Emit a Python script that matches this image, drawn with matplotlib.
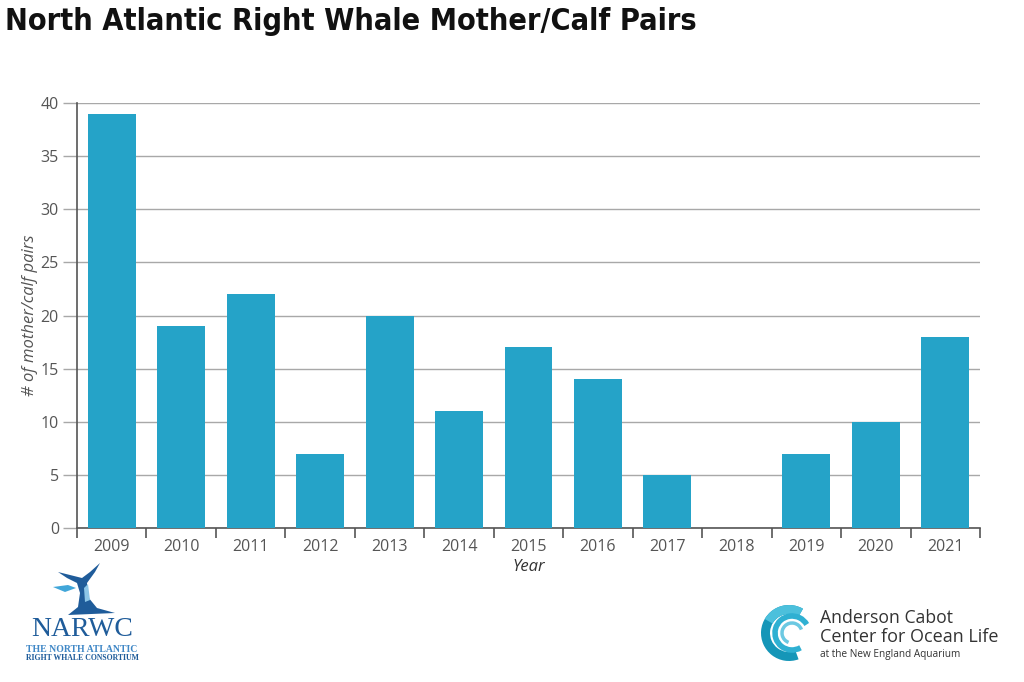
import matplotlib
matplotlib.use("Agg")
import matplotlib.pyplot as plt
from matplotlib import font_manager
from matplotlib.patches import Polygon, Arc, Wedge
import numpy as np

years = ["2009", "2010", "2011", "2012", "2013", "2014", "2015",
         "2016", "2017", "2018", "2019", "2020", "2021"]
pairs = [39, 19, 22, 7, 20, 11, 17, 14, 5, 0, 7, 10, 18]
y_ticks = [0, 5, 10, 15, 20, 25, 30, 35, 40]

bar_color = "#25a3c8"
grid_color = "#a8a8a8"
text_color = "#555555"

plt.rcParams["font.family"] = ["Open Sans", "DejaVu Sans"]

# pick a narrow bold face for the title if one is around
names = {f.name for f in font_manager.fontManager.ttflist}
narrow = [f for f in font_manager.fontManager.ttflist
          if f.stretch in ("condensed", "semi-condensed", "extra-condensed")
          or "Narrow" in f.name or "Condensed" in f.name]
title_kw = dict(family=["Lato", "DejaVu Sans"], fontsize=21)
if "Liberation Sans Narrow" in names:
    title_kw = dict(family=["Liberation Sans Narrow", "DejaVu Sans"], fontsize=23)
elif narrow:
    title_kw = dict(family=[narrow[0].name, "DejaVu Sans"], fontsize=22,
                    fontstretch="condensed")

fig = plt.figure(figsize=(10.24, 6.82), dpi=100)
ax = fig.add_axes([77 / 1024, 1 - 528 / 682, (980 - 77) / 1024, (528 - 103) / 682])

x = np.arange(len(years))
ax.bar(x, pairs, width=0.69, color=bar_color, zorder=3)

ax.set_xlim(-0.5, len(years) - 0.5)
ax.set_ylim(0, 40)
ax.set_yticks(y_ticks)
ax.set_yticklabels([str(v) for v in y_ticks], fontsize=11.5, color=text_color)
ax.yaxis.grid(True, color=grid_color, linewidth=1, zorder=0)
ax.tick_params(axis="y", length=10, color=grid_color, width=1, pad=3)

ax.set_xticks(x)
ax.set_xticklabels(years, fontsize=11.5, color=text_color)
ax.set_xticks(np.arange(-0.5, len(years)), minor=True)
ax.tick_params(axis="x", which="major", length=0, pad=8)
ax.tick_params(axis="x", which="minor", length=7, color="#555555", width=1.2)

for s in ["top", "right"]:
    ax.spines[s].set_visible(False)
ax.spines["left"].set_color("#555555")
ax.spines["left"].set_linewidth(1.2)
ax.spines["bottom"].set_color("#555555")
ax.spines["bottom"].set_linewidth(1.2)

ax.set_ylabel("# of mother/calf pairs", fontsize=12, style="italic",
              color=text_color, labelpad=2)
ax.set_xlabel("Year", fontsize=12, style="italic", color="#333333", labelpad=3)

fig.text(5 / 1024, 1 - 22 / 682, "North Atlantic Right Whale Mother/Calf Pairs",
         fontweight="bold", va="center", ha="left", color="#111111", **title_kw)


def px_poly(pts, color):
    p = Polygon([(a, 682 - b) for a, b in pts], closed=True, transform=None,
                facecolor=color, edgecolor="none")
    fig.patches.append(p)


# NARWC logo (rough)
px_poly([(100, 563), (90, 572), (82, 578), (58, 572), (67, 578), (77, 583),
         (80, 593), (78, 607), (68, 615), (115, 613), (97, 608), (88, 597),
         (87, 583), (95, 572)], "#1f5c9a")
px_poly([(53, 587), (68, 585), (76, 588), (65, 592)], "#41a6d9")
px_poly([(84, 588), (88, 584), (90, 600), (85, 602)], "#8cc6e8")
fig.text(82 / 1024, 1 - 630 / 682, "NARWC", fontsize=20, family="Liberation Serif",
         color="#1f5c9a", ha="center", va="center")
fig.text(82 / 1024, 1 - 650 / 682, "THE NORTH ATLANTIC", fontsize=7,
         family="Liberation Serif", fontweight="bold", color="#3f87c6",
         ha="center", va="center")
fig.text(82 / 1024, 1 - 658.5 / 682, "RIGHT WHALE CONSORTIUM", fontsize=5.6,
         family="Liberation Serif", fontweight="bold", color="#1f5c9a",
         ha="center", va="center")

# Anderson Cabot logo (rough)
cx, cy = 789, 682 - 633
fig.patches.append(Wedge((cx, cy), 28, 60, 290, width=9, transform=None,
                         facecolor="#1596b8", edgecolor="none"))
fig.patches.append(Wedge((cx, cy), 28, 60, 150, width=9, transform=None,
                         facecolor="#4cc0dc", edgecolor="none"))
for r, w, t1, t2, c in [(17, 4, 30, 300, "#2fb0d2"), (10, 2.5, 20, 250, "#6cc9e2")]:
    fig.patches.append(Arc((cx + 3, cy), 2 * r, 2 * r, theta1=t1, theta2=t2,
                           transform=None, color=c, linewidth=w))
fig.text(820 / 1024, 1 - 618 / 682, "Anderson Cabot", fontsize=12.7,
         color="#333333", ha="left", va="center")
fig.text(820 / 1024, 1 - 637 / 682, "Center for Ocean Life", fontsize=13,
         color="#333333", ha="left", va="center")
fig.text(820 / 1024, 1 - 654 / 682, "at the New England Aquarium", fontsize=7.2,
         color="#333333", ha="left", va="center")

fig.savefig("out.png", dpi=100, facecolor="white")
